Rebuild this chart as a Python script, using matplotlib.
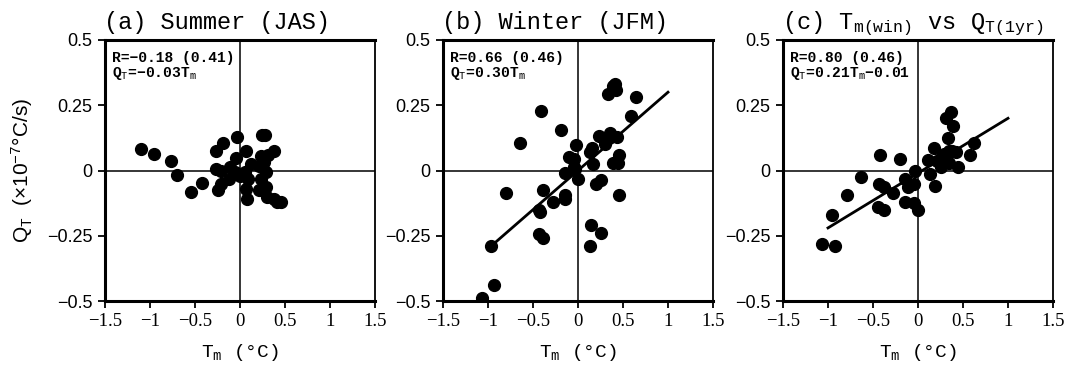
import matplotlib
matplotlib.use("Agg")
import matplotlib.pyplot as plt

plt.rcParams['mathtext.fontset'] = 'custom'
plt.rcParams['mathtext.rm'] = 'Liberation Mono'
plt.rcParams['mathtext.it'] = 'Liberation Mono'
plt.rcParams['mathtext.bf'] = 'Liberation Mono:bold'

# (a) Summer (JAS)
tm_sum = [-1.10, -0.96, -0.77, -0.70, -0.55, -0.42, -0.27, -0.19, -0.27, -0.21,
          -0.11, -0.06, -0.03, 0.05, -0.12, -0.21, -0.24, -0.03, -0.04, 0.07,
          0.12, 0.21, 0.27, 0.29, 0.085, 0.23, 0.07, 0.08, 0.21, 0.29,
          0.24, 0.28, 0.23, 0.31, 0.38, 0.30, 0.38, 0.41, 0.45, 0.00]
qt_sum = [0.083, 0.063, 0.035, -0.018, -0.084, -0.046, 0.073, 0.107, 0.005, 0.0,
          0.013, -0.006, -0.013, -0.006, -0.031, -0.05, -0.075, 0.13, 0.047, 0.075,
          0.025, 0.019, 0.031, -0.006, -0.031, -0.031, -0.072, -0.11, -0.075, -0.063,
          0.135, 0.135, 0.057, 0.059, 0.073, -0.10, -0.108, -0.12, -0.12, -0.02]

# (b) Winter (JFM)
tm_win = [-1.07, -0.93, -0.97, -0.80, -0.64, -0.41, -0.19, -0.43, -0.42, -0.39,
          -0.43, -0.39, -0.28, -0.15, -0.14, -0.14, -0.10, -0.05, -0.05, -0.02,
          0.00, -0.03, 0.13, 0.15, 0.17, 0.20, 0.26, 0.14, 0.13, 0.25,
          0.23, 0.30, 0.34, 0.36, 0.43, 0.44, 0.39, 0.45, 0.46, 0.33,
          0.39, 0.41, 0.42, 0.64, 0.59]
qt_win = [-0.49, -0.44, -0.29, -0.088, 0.106, 0.229, 0.156, -0.153, -0.16, -0.075,
          -0.244, -0.26, -0.12, -0.094, -0.11, -0.01, 0.05, 0.044, 0.012, 0.096,
          -0.033, 0.006, 0.071, 0.085, 0.025, -0.05, -0.037, -0.21, -0.29, -0.24,
          0.134, 0.10, 0.125, 0.145, 0.13, 0.027, 0.027, 0.059, -0.094, 0.294,
          0.325, 0.331, 0.31, 0.281, 0.21]

# (c) Tm(win) vs QT(1yr)
tm_c = [-1.07, -0.92, -0.96, -0.79, -0.63, -0.42, -0.20, -0.43, -0.38, -0.45,
        -0.38, -0.28, -0.15, -0.11, -0.15, -0.05, 0.00, -0.05, -0.03, 0.13,
        0.11, 0.18, 0.19, 0.21, 0.25, 0.26, 0.33, 0.31, 0.37, 0.39,
        0.34, 0.38, 0.42, 0.34, 0.44, 0.58, 0.62, 0.29]
qt_c = [-0.28, -0.29, -0.17, -0.092, -0.025, 0.061, 0.044, -0.053, -0.063, -0.139,
        -0.152, -0.085, -0.032, -0.063, -0.12, -0.126, -0.152, -0.053, 0.0, -0.015,
        0.04, 0.088, -0.061, 0.038, 0.047, 0.013, 0.124, 0.2, 0.223, 0.17,
        0.076, 0.076, 0.069, 0.028, 0.015, 0.061, 0.107, 0.063]

# fit lines (slope, intercept, x start), None = no line drawn
fits = [None, (0.30, 0.0, -0.97), (0.21, -0.01, -1.0)]

titles = ['(a) Summer (JAS)', '(b) Winter (JFM)',
          '(c) T$_{\\mathrm{m(win)}}$ vs Q$_{\\mathrm{T(1yr)}}$']
notes = [['R=\u22120.18 (0.41)', 'Q$_\\mathrm{T}$=\u22120.03T$_\\mathrm{m}$'],
         ['R=0.66 (0.46)', 'Q$_\\mathrm{T}$=0.30T$_\\mathrm{m}$'],
         ['R=0.80 (0.46)', 'Q$_\\mathrm{T}$=0.21T$_\\mathrm{m}$\u22120.01']]

xs = [tm_sum, tm_win, tm_c]
ys = [qt_sum, qt_win, qt_c]

xticks = [-1.5, -1, -0.5, 0, 0.5, 1, 1.5]
xticklabels = ['\u22121.5', '\u22121', '\u22120.5', '0', '0.5', '1', '1.5']
yticks = [-0.5, -0.25, 0, 0.25, 0.5]
yticklabels = ['\u22120.5', '\u22120.25', '0', '0.25', '0.5']

fig = plt.figure(figsize=(10.69, 3.66), dpi=100)
lefts = [105, 443, 783]

for i in range(3):
    ax = fig.add_axes([lefts[i] / 1069, 1 - 301 / 366, 270 / 1069, 261 / 366])
    ax.axhline(0, color='k', lw=1.1, zorder=1)
    ax.axvline(0, color='k', lw=1.1, zorder=1)
    ax.plot(xs[i], ys[i], 'o', color='k', markersize=8.5, zorder=3)
    if fits[i] is not None:
        m, b, x0 = fits[i]
        ax.plot([x0, 1.0], [m * x0 + b, m * 1.0 + b], color='k', lw=2, zorder=2)
    ax.set_xlim(-1.5, 1.5)
    ax.set_ylim(-0.5, 0.5)
    ax.set_xticks(xticks)
    ax.set_xticklabels(xticklabels, family='Liberation Serif', fontsize=13.5)
    ax.set_yticks(yticks)
    ax.set_yticklabels(yticklabels, family='Liberation Sans', fontsize=13)
    ax.tick_params(direction='out', length=5, width=1.3, pad=4)
    for side in ['left', 'bottom', 'top']:
        ax.spines[side].set_linewidth(2.2)
    ax.spines['right'].set_linewidth(1.3)
    ax.set_title(titles[i], loc='left', family='Liberation Mono', fontsize=17,
                 pad=8, x=-0.005)
    ax.set_xlabel('T$_\\mathrm{m}$ (\u00b0C)', family='Liberation Mono', fontsize=14,
                  labelpad=8)
    ax.text(0.025, 0.93, notes[i][0], transform=ax.transAxes, family='Liberation Mono',
            fontweight='bold', fontsize=10.5, va='center')
    ax.text(0.025, 0.87, notes[i][1], transform=ax.transAxes, family='Liberation Mono',
            fontweight='bold', fontsize=10.5, va='center')
    if i == 0:
        ax.set_ylabel('Q$_\\mathrm{T}$  (\u00d710$^{\\mathrm{\u22127}}$\u00b0C/s)',
                      family='Liberation Sans', fontsize=15, labelpad=8)

fig.savefig('out.png', dpi=100)
